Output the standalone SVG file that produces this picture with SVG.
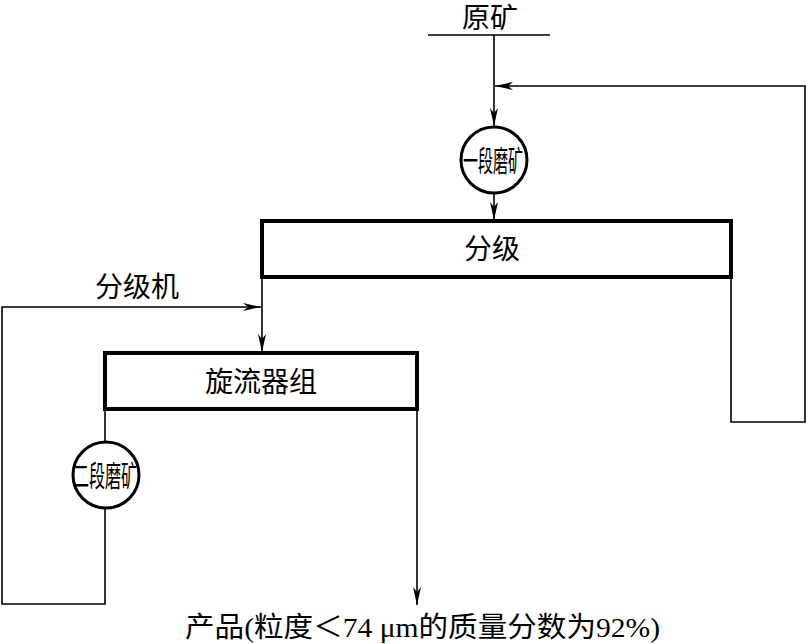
<svg xmlns="http://www.w3.org/2000/svg" width="806" height="644" viewBox="0 0 806 644">
<style>
.t{font-family:"Liberation Serif","Noto Sans CJK SC",serif;fill:#000}
.ln{fill:none;stroke:#000;stroke-width:1.6}
.box{fill:#fff;stroke:#000;stroke-width:4}
.cir{fill:#fff;stroke:#000;stroke-width:3}
</style>
<defs>
<marker id="ah" viewBox="0 0 18 8" markerWidth="18" markerHeight="8" refX="18" refY="4" orient="auto" markerUnits="userSpaceOnUse">
<path d="M0,0 L18,4 L0,8 L5,4 Z" fill="#000"/>
</marker>
</defs>
<rect width="806" height="644" fill="#fff"/>
<g id="connectors">
<line class="ln" x1="428" y1="35" x2="550" y2="35" stroke-width="2"/>
<path class="ln" d="M494,35 V126" marker-end="url(#ah)"/>
<path class="ln" d="M731,277 V422 H805 V86 H495" marker-end="url(#ah)"/>
<path class="ln" d="M494,193 V220" marker-end="url(#ah)"/>
<path class="ln" d="M262,277 V352" marker-end="url(#ah)"/>
<path class="ln" d="M105,409 V443"/>
<path class="ln" d="M105,508 V604 H2 V307 H261" marker-end="url(#ah)"/>
<path class="ln" d="M417,409 V605" marker-end="url(#ah)"/>
</g>
<g id="ore">
<text class="t" x="490" y="28" font-size="28" text-anchor="middle">原矿</text>
</g>
<g id="mill1">
<circle class="cir" cx="494" cy="160" r="33"/>
<text class="t" x="493" y="172" font-size="29" text-anchor="middle" textLength="60" lengthAdjust="spacingAndGlyphs">一段磨矿</text>
</g>
<g id="classify">
<rect class="box" x="262" y="221" width="469" height="56"/>
<text class="t" x="492" y="259" font-size="28" text-anchor="middle">分级</text>
</g>
<g id="classifier-label">
<text class="t" x="137" y="297" font-size="28" text-anchor="middle">分级机</text>
</g>
<g id="cyclone">
<rect class="box" x="105" y="353" width="312" height="56"/>
<text class="t" x="261" y="392" font-size="28" text-anchor="middle">旋流器组</text>
</g>
<g id="mill2">
<circle class="cir" cx="106" cy="475" r="33"/>
<text class="t" x="105" y="487" font-size="29" text-anchor="middle" textLength="64" lengthAdjust="spacingAndGlyphs">二段磨矿</text>
</g>
<g id="product">
<text class="t" x="185" y="637" font-size="28" textLength="475" lengthAdjust="spacingAndGlyphs">产品(粒度＜74 μm的质量分数为92%)</text>
</g>
</svg>
